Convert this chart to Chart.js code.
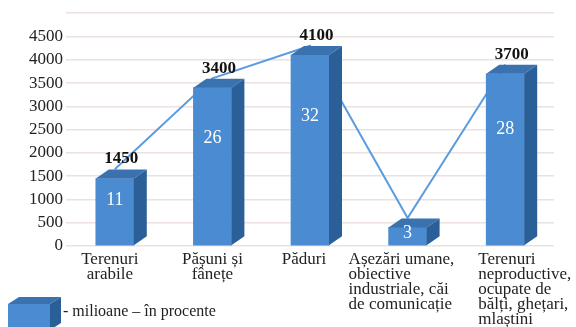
<!DOCTYPE html>
<html>
<head>
<meta charset="utf-8">
<script src="https://cdn.jsdelivr.net/npm/chart.js@4"></script>
<style>
  body { margin: 0; background: #fff; }
</style>
</head>
<body>
<canvas id="landUse" width="576" height="327"></canvas>
<script>
const categories = [
  ["Terenuri", "arabile"],
  ["Pășuni și", "fânețe"],
  ["Păduri"],
  ["Așezări umane,", "obiective", "industriale, căi", "de comunicație"],
  ["Terenuri", "neproductive,", "ocupate de", "bălți, ghețari,", "mlaștini"]
];
const millions = [1450, 3400, 4100, 400, 3700];
const percents = [11, 26, 32, 3, 28];
const legendText = "- milioane – în procente";

const serif = "'Liberation Serif', 'Times New Roman', serif";
const frontBlue = "#4a8bd1";
const topBlue = "#3a72b0";
const sideBlue = "#2b5f98";
const lineBlue = "#5b9be0";
const depthX = 13;
const depthY = 9;
// how each category caption sits relative to its bar centre
const captionAlign = ["center", "center", "center", "left", "left"];
const captionShift = [-5, 0, -6, -59, -27];

// top and right faces so each bar looks like a block
const blockFaces = {
  id: "blockFaces",
  afterDatasetDraw(chart, args) {
    if (args.index !== 0) return;
    const ctx = chart.ctx;
    args.meta.data.forEach(bar => {
      const { x, y, base, width } = bar.getProps(["x", "y", "base", "width"], true);
      const l = x - width / 2;
      const r = x + width / 2;
      ctx.save();
      ctx.fillStyle = topBlue;
      ctx.beginPath();
      ctx.moveTo(l, y);
      ctx.lineTo(r, y);
      ctx.lineTo(r + depthX, y - depthY);
      ctx.lineTo(l + depthX, y - depthY);
      ctx.closePath();
      ctx.fill();
      ctx.fillStyle = sideBlue;
      ctx.beginPath();
      ctx.moveTo(r, y);
      ctx.lineTo(r + depthX, y - depthY);
      ctx.lineTo(r + depthX, base - depthY);
      ctx.lineTo(r, base);
      ctx.closePath();
      ctx.fill();
      ctx.restore();
    });
  }
};

// value above each block, percentage inside it
const barLabels = {
  id: "barLabels",
  afterDatasetsDraw(chart) {
    const ctx = chart.ctx;
    const yScale = chart.scales.y;
    const meta = chart.getDatasetMeta(0);
    ctx.save();
    ctx.textAlign = "center";
    meta.data.forEach((bar, i) => {
      const { x, y } = bar.getProps(["x", "y"], true);
      if (i !== 3) {
        ctx.font = "bold 17px " + serif;
        ctx.fillStyle = "#111";
        ctx.textBaseline = "alphabetic";
        ctx.fillText(millions[i], x + depthX / 2, y - depthY - 6);
      }
      ctx.font = "18px " + serif;
      ctx.fillStyle = "#fff";
      ctx.textBaseline = "middle";
      ctx.fillText(percents[i], x, yScale.getPixelForValue(millions[i] * 0.68));
    });
    ctx.restore();
  }
};

// multi-line category captions under the x axis
const captions = {
  id: "captions",
  afterDraw(chart) {
    const ctx = chart.ctx;
    const xScale = chart.scales.x;
    const y0 = chart.scales.y.getPixelForValue(0);
    ctx.save();
    ctx.font = "17px " + serif;
    ctx.fillStyle = "#222";
    ctx.textBaseline = "alphabetic";
    categories.forEach((lines, i) => {
      const cx = xScale.getPixelForValue(i) + captionShift[i];
      ctx.textAlign = captionAlign[i];
      lines.forEach((line, j) => {
        ctx.fillText(line, cx, y0 + 18 + j * 15);
      });
    });
    ctx.restore();
  }
};

// legend block in the bottom-left corner
const blockLegend = {
  id: "blockLegend",
  afterDraw(chart) {
    const ctx = chart.ctx;
    const l = 8, r = 50, t = 304, b = 330;
    ctx.save();
    ctx.fillStyle = frontBlue;
    ctx.fillRect(l, t, r - l, b - t);
    ctx.fillStyle = topBlue;
    ctx.beginPath();
    ctx.moveTo(l, t);
    ctx.lineTo(r, t);
    ctx.lineTo(r + 11, t - 7);
    ctx.lineTo(l + 11, t - 7);
    ctx.closePath();
    ctx.fill();
    ctx.fillStyle = sideBlue;
    ctx.beginPath();
    ctx.moveTo(r, t);
    ctx.lineTo(r + 11, t - 7);
    ctx.lineTo(r + 11, b - 7);
    ctx.lineTo(r, b);
    ctx.closePath();
    ctx.fill();
    ctx.font = "16px " + serif;
    ctx.fillStyle = "#222";
    ctx.textAlign = "left";
    ctx.textBaseline = "middle";
    ctx.fillText(legendText, 63, 312);
    ctx.restore();
  }
};

new Chart("landUse", {
  data: {
    labels: categories,
    datasets: [
      {
        type: "bar",
        data: millions,
        backgroundColor: frontBlue,
        barThickness: 38,
        order: 0
      },
      {
        type: "line",
        data: millions,
        yAxisID: "yLine",
        borderColor: lineBlue,
        borderWidth: 2,
        pointRadius: 0,
        tension: 0,
        order: 1
      }
    ]
  },
  options: {
    responsive: false,
    animation: false,
    layout: {
      padding: { left: 26, right: 22, top: -11, bottom: 73 }
    },
    scales: {
      x: {
        grid: { display: false },
        border: { display: false },
        ticks: { display: false }
      },
      y: {
        min: 0,
        max: 5000,
        grid: { color: "#ebe2df", lineWidth: 1.5, drawTicks: false },
        border: { display: false },
        ticks: {
          autoSkip: false,
          stepSize: 500,
          padding: 3,
          color: "#222",
          font: { family: serif, size: 17 },
          callback: v => (v === 5000 ? "" : v)
        }
      },
      yLine: {
        display: false,
        min: -200,
        max: 4800
      }
    },
    plugins: {
      legend: { display: false },
      tooltip: { enabled: false }
    }
  },
  plugins: [blockFaces, barLabels, captions, blockLegend]
});
</script>
</body>
</html>
